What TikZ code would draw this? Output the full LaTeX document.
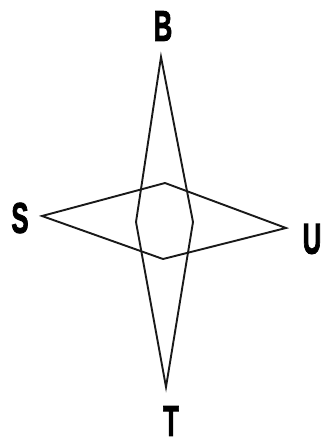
\documentclass[tikz,border=0pt]{standalone}
\usepackage{fontspec}
\setmainfont{Liberation Sans}
\newfontfamily\labfont[FakeBold=2.5]{Liberation Sans Bold}
\begin{document}
\begin{tikzpicture}[x=1pt,y=-1pt,
  lab/.style={font=\labfont\fontsize{43}{43}\selectfont, xscale=0.6, transform shape, inner sep=0pt},
  edge/.style={line width=1.9pt, line join=miter, black!90}]
\useasboundingbox (0,0) rectangle (325,445);
\fill[white] (0,0) rectangle (325,445);
% labels
\node[lab] (B) at (163,26) {B};
\node[lab] (S) at (20,218) {S};
\node[lab] (U) at (312,239) {U};
\node[lab] (T) at (171,421) {T};
% vertical diamond
\coordinate (vt) at (161,57);
\coordinate (vr) at (193,222);
\coordinate (vb) at (166,387);
\coordinate (vl) at (136,222);
% horizontal diamond
\coordinate (hl) at (42,216);
\coordinate (ht) at (165,183);
\coordinate (hr) at (286,228);
\coordinate (hb) at (163,259);
\draw[edge] (vt) -- (vr) -- (vb) -- (vl) -- cycle;
\draw[edge] (hl) -- (ht) -- (hr) -- (hb) -- cycle;
\end{tikzpicture}
\end{document}
